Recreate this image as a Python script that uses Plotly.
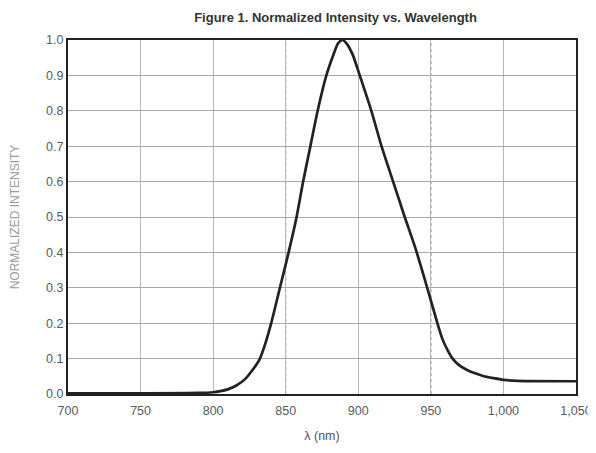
import plotly.graph_objects as go

wavelength = [700, 750, 790, 800, 805, 810, 816, 822, 827, 832, 836, 840, 846, 852, 857.5, 862, 867, 872, 878,
              883, 886, 889, 892, 896, 901, 909, 916, 924, 932, 939.5, 947.5, 954.5, 958, 961.5, 965, 969, 974,
              980, 986, 993, 1000, 1010, 1050]
intensity = [0.002, 0.002, 0.003, 0.005, 0.008, 0.013, 0.024, 0.042, 0.067, 0.098, 0.143, 0.2, 0.3, 0.4, 0.5, 0.6, 0.7, 0.8, 0.9,
             0.96, 0.99, 1.0, 0.99, 0.96, 0.9, 0.8, 0.7, 0.6, 0.5, 0.41, 0.3, 0.2, 0.155, 0.124, 0.1, 0.083, 0.07,
             0.059, 0.051, 0.045, 0.04, 0.037, 0.036]

x_ticks = [700, 750, 800, 850, 900, 950, 1000, 1050]
y_ticks = [0.0, 0.1, 0.2, 0.3, 0.4, 0.5, 0.6, 0.7, 0.8, 0.9, 1.0]
dotted_grid_x = [850, 950, 1000]

fig = go.Figure()
for gx in dotted_grid_x:
    fig.add_vline(x=gx, line=dict(color="#666666", width=1, dash="dot"), layer="below")
fig.add_trace(go.Scatter(x=wavelength, y=intensity, mode="lines",
                         line=dict(color="#222222", width=2.7, shape="spline", smoothing=0.7),
                         showlegend=False))

fig.update_layout(
    width=588, height=437,
    margin=dict(l=60, r=20, t=32, b=51, autoexpand=False),
    paper_bgcolor="white", plot_bgcolor="white",
    font=dict(family="Liberation Sans, Arial, sans-serif", color="#5a5a5a", size=12.5),
    title=dict(text="<b>Figure 1. Normalized Intensity vs. Wavelength</b>",
               x=0.557, xanchor="center", y=0.988, yanchor="top",
               font=dict(size=13, color="#333333")),
)
fig.update_xaxes(range=[700, 1050], tickvals=x_ticks, tickformat=",",
                 showgrid=True, gridcolor="#b8b8b8", gridwidth=1,
                 showline=True, linecolor="#222222", linewidth=2, mirror=True,
                 ticks="", zeroline=False, ticklabelstandoff=4, automargin=False,
                 ticklabeloverflow="allow",
                 title=dict(text="λ (nm)", font=dict(size=12.5, color="#555555"), standoff=14))
fig.update_yaxes(range=[0, 1.0], tickvals=y_ticks, tickformat=".1f",
                 showgrid=True, gridcolor="#a8a8a8", gridwidth=1,
                 showline=True, linecolor="#222222", linewidth=2, mirror=True,
                 ticks="", zeroline=False, automargin=False,
                 title=dict(text="NORMALIZED INTENSITY", font=dict(size=12, color="#9a9a9a"), standoff=26))

fig.write_html("out.html")
